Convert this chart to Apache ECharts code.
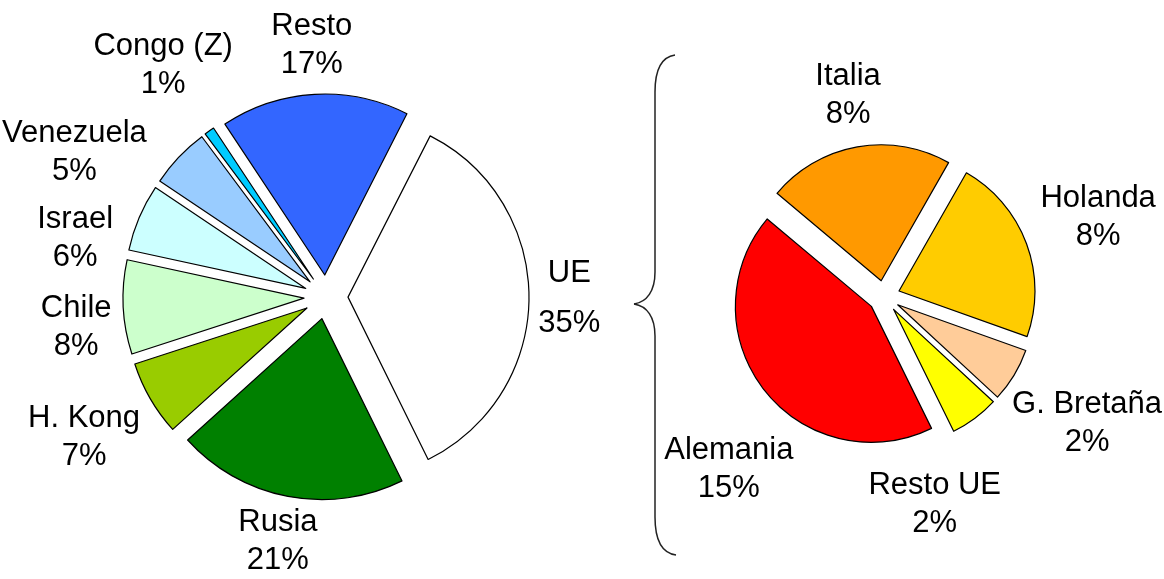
<!DOCTYPE html>
<html><head><meta charset="utf-8">
<script src="https://cdn.jsdelivr.net/npm/echarts@6/dist/echarts.min.js"></script>
<style>html,body{margin:0;padding:0;background:#fff}#c{width:1164px;height:579px}</style>
</head><body><div id="c"></div>
<script>
// Left pie (listed counter-clockwise from the top of the "UE" slice)
const mainCategories = ['Resto', 'Congo (Z)', 'Venezuela', 'Israel', 'Chile', 'H. Kong', 'Rusia', 'UE'];
const mainValues = [16.8, 0.9, 5.4, 6.0, 8.4, 6.7, 20.6, 35.2];
const mainColors = ['#3366FF', '#00CCFF', '#99CCFF', '#CCFFFF', '#CCFFCC', '#99CC00', '#008000', '#FFFFFF'];
// Right pie: breakdown of UE (clockwise)
const ueCategories = ['Italia', 'Holanda', 'G. Bretaña', 'Resto UE', 'Alemania'];
const ueValues = [7.75, 7.77, 2.25, 2.04, 15.19];
const ueColors = ['#FF9900', '#FFCC00', '#FFCC99', '#FFFF00', '#FF0000'];

const chart = echarts.init(document.getElementById('c'), null, {renderer: 'canvas'});
const FONT_FAMILY = 'Liberation Sans, Arial, sans-serif';
const FONT_SIZE = 31;
const LINE_H = 38;
const GAP = 9;
const MARGIN = 8;

function buildData(names, values, colors) {
  return names.map((n, i) => ({
    name: n, value: values[i], selected: true,
    itemStyle: {color: colors[i]}
  }));
}

const commonSeries = {
  type: 'pie',
  selectedMode: 'multiple',
  animation: false,
  silent: true,
  itemStyle: {borderColor: '#000', borderWidth: 1.2},
  emphasis: {disabled: true, scale: false},
  label: {show: false},
  labelLine: {show: false}
};

const braceStyle = {stroke: '#222', lineWidth: 1.5, fill: null};
const brace = [
  {type: 'bezierCurve', shape: {x1: 675, y1: 55, cpx1: 661, cpy1: 57, cpx2: 655, cpy2: 70, x2: 655, y2: 92}, style: braceStyle},
  {type: 'line', shape: {x1: 655, y1: 92, x2: 655, y2: 272}, style: braceStyle},
  {type: 'bezierCurve', shape: {x1: 655, y1: 272, cpx1: 655, cpy1: 291, cpx2: 647, cpy2: 302, x2: 634, y2: 304}, style: braceStyle},
  {type: 'bezierCurve', shape: {x1: 634, y1: 304, cpx1: 647, cpy1: 306, cpx2: 655, cpy2: 317, x2: 655, y2: 336}, style: braceStyle},
  {type: 'line', shape: {x1: 655, y1: 336, x2: 655, y2: 517}, style: braceStyle},
  {type: 'bezierCurve', shape: {x1: 655, y1: 517, cpx1: 655, cpy1: 540, cpx2: 661, cpy2: 553, x2: 676, y2: 555}, style: braceStyle}
];
// area covered by the brace, kept clear of labels
const braceBox = {x: 634, y: 55, w: 22, h: 500};

chart.setOption({
  backgroundColor: '#fff',
  animation: false,
  series: [
    Object.assign({}, commonSeries, {
      center: [326, 297], radius: 181, selectedOffset: 22,
      startAngle: 63, clockwise: false,
      data: buildData(mainCategories, mainValues, mainColors)
    }),
    Object.assign({}, commonSeries, {
      center: [884, 296.5], radius: 136, selectedOffset: 16,
      startAngle: 140, clockwise: true,
      data: buildData(ueCategories, ueValues, ueColors)
    })
  ],
  graphic: brace
});

// ---- labels placed just outside each exploded slice, from the library's own slice layout ----
const measureCtx = document.createElement('canvas').getContext('2d');
measureCtx.font = FONT_SIZE + 'px ' + FONT_FAMILY;

function overlap(a, b) {
  return a.x < b.x + b.w + MARGIN && b.x < a.x + a.w + MARGIN &&
         a.y < b.y + b.h + MARGIN && b.y < a.y + a.h + MARGIN;
}

const labelEls = [];
const W = chart.getWidth(), H = chart.getHeight();
[0, 1].forEach(si => {
  const series = chart.getModel().getSeriesByIndex(si);
  const data = series.getData();
  const off = series.get('selectedOffset');
  const dirSign = series.get('clockwise') ? 1 : -1;
  const placed = [braceBox];
  for (let i = 0; i < data.count(); i++) {
    const lay = data.getItemLayout(i);
    const name = data.getName(i);
    const value = data.get('value', i);
    const lh = name === 'UE' ? 50 : LINE_H;
    const lines = [name, Math.round(value) + '%'];
    const w = Math.max.apply(null, lines.map(t => measureCtx.measureText(t).width));
    const h = lh * lines.length;
    let s = lay.startAngle, e = lay.endAngle;
    if (e - s > Math.PI) e -= 2 * Math.PI;
    if (s - e > Math.PI) e += 2 * Math.PI;
    const mid = (s + e) / 2;
    const boxAt = ang => {
      const c = Math.cos(ang), sn = Math.sin(ang);
      const ext = w / 2 * Math.abs(c) + h / 2 * Math.abs(sn);
      const d = lay.r + off + GAP + ext;
      let x = lay.cx + d * c, y = lay.cy + d * sn;
      x = Math.min(Math.max(x, w / 2 + 2), W - w / 2 - 2);
      y = Math.min(Math.max(y, h / 2), H - h / 2);
      return {x: x - w / 2, y: y - h / 2, w: w, h: h, cx: x, cy: y};
    };
    let box = boxAt(mid);
    search:
    for (let k = 0; k < 90; k++) {
      for (const sg of (k === 0 ? [1] : [dirSign, -dirSign])) {
        const b = boxAt(mid + sg * k * Math.PI / 180);
        if (!placed.some(p => overlap(p, b))) { box = b; break search; }
      }
    }
    placed.push(box);
    labelEls.push({
      type: 'text', x: box.cx, y: box.cy, silent: true,
      style: {
        text: lines.join('\n'), fill: '#000',
        fontSize: FONT_SIZE, fontFamily: FONT_FAMILY, lineHeight: lh,
        align: 'center', verticalAlign: 'middle',
        textAlign: 'center', textVerticalAlign: 'middle'
      }
    });
  }
});

chart.setOption({graphic: brace.concat(labelEls)});
</script>
</body></html>
